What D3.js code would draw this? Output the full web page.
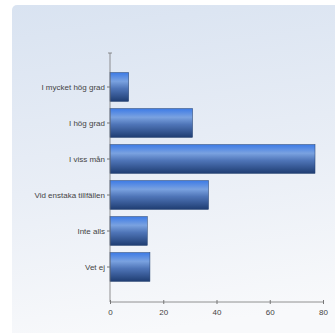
<!DOCTYPE html>
<meta charset="utf-8">
<style>
body { margin: 0; background: #fff; }
</style>
<svg width="335" height="333"></svg>
<script src="https://d3js.org/d3.v7.min.js"></script>
<script>

let categories = ["I mycket hög grad", "I hög grad", "I viss mån", "Vid enstaka tillfällen", "Inte alls", "Vet ej"];
let values = [7, 31, 77, 37, 14, 15];
let xTicks = [0, 20, 40, 60, 80];

let svg = d3.select("svg");

let defs = svg.append("defs");
let bg = defs.append("linearGradient").attr("id", "bg")
  .attr("x1", 0).attr("y1", 0).attr("x2", 0.15).attr("y2", 1);
bg.append("stop").attr("offset", "0%").attr("stop-color", "#d9e3f1");
bg.append("stop").attr("offset", "55%").attr("stop-color", "#e9eef6");
bg.append("stop").attr("offset", "100%").attr("stop-color", "#f8f9fb");

let bar = defs.append("linearGradient").attr("id", "bar")
  .attr("x1", 0).attr("y1", 0).attr("x2", 0).attr("y2", 1);
bar.append("stop").attr("offset", "0%").attr("stop-color", "#3d7be6");
bar.append("stop").attr("offset", "30%").attr("stop-color", "#7aa2e0");
bar.append("stop").attr("offset", "55%").attr("stop-color", "#4f75b8");
bar.append("stop").attr("offset", "100%").attr("stop-color", "#1f3d72");

svg.append("rect")
  .attr("x", 12).attr("y", 5)
  .attr("width", 340).attr("height", 340)
  .attr("rx", 5)
  .attr("fill", "url(#bg)");

let x = d3.scaleLinear().domain([0, 80]).range([110, 323]);
let y = d3.scaleBand().domain(categories).range([69, 285]).paddingInner(0.2).paddingOuter(0.1);

svg.append("g").selectAll("rect")
  .data(values)
  .enter().append("rect")
  .attr("x", x(0))
  .attr("y", (d, i) => y(categories[i]))
  .attr("width", d => x(d) - x(0))
  .attr("height", y.bandwidth())
  .attr("fill", "url(#bar)")
  .attr("stroke", "#1d3a6b")
  .attr("stroke-width", 0.5);

// y axis
let yAxis = svg.append("g").attr("transform", "translate(" + x(0) + ",0)")
  .call(d3.axisLeft(y).tickSize(3).tickPadding(2));
yAxis.select(".domain").remove();
yAxis.selectAll("line").attr("stroke", "#777");
svg.append("line").attr("x1", x(0)).attr("x2", x(0)).attr("y1", 53).attr("y2", 302).attr("stroke", "#777").attr("stroke-width", 0.8);
svg.append("line").attr("x1", x(0) - 2).attr("x2", x(0) + 2).attr("y1", 53).attr("y2", 53).attr("stroke", "#777").attr("stroke-width", 0.8);

// x axis
let xAxis = svg.append("g").attr("transform", "translate(0,302)")
  .call(d3.axisBottom(x).tickValues(xTicks).tickSize(3).tickPadding(4));
xAxis.select(".domain").remove();
xAxis.selectAll("line").attr("stroke", "#777").attr("y1", -2).attr("y2", 2);
svg.append("line").attr("x1", x(0)).attr("x2", x(80)).attr("y1", 302).attr("y2", 302).attr("stroke", "#777").attr("stroke-width", 0.8);

svg.selectAll(".tick text")
  .attr("font-family", "Liberation Sans, Arial, sans-serif")
  .attr("font-size", 8)
  .attr("fill", "#444");

</script>
